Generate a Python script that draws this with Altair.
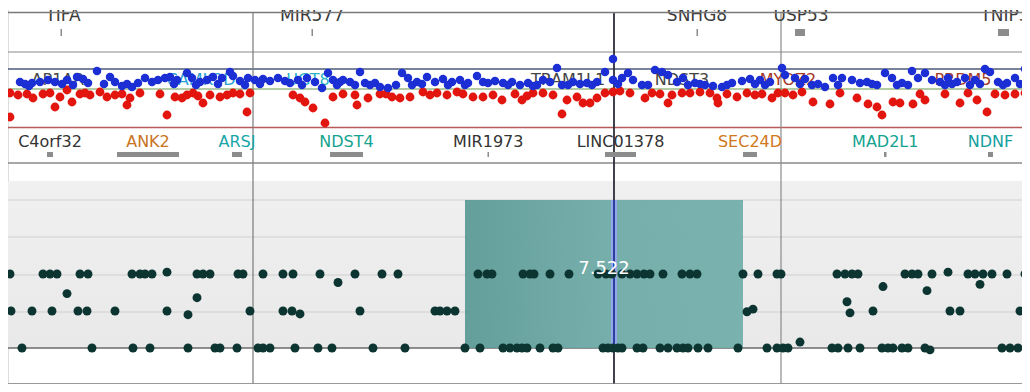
import altair as alt
import pandas as pd

W, H = 1014, 376          # chart size; page margin of 8px on every side
OFF = 8                   # page offset of the chart origin

# ---------------- data ----------------
# scatter track: (genomic position, log-ratio)
blue_points = [
    (20,0.7),(25,0.5),(32,0.6),(40,0.7),(48,0.9),(55,0.7),(67,0.9),(77,1.2),(83,1.0),(88,0.6),
    (97,1.8),(110,1.2),(115,0.7),(122,0.3),(132,0.2),(138,0.6),(145,1.1),(152,0.7),(158,0.9),(165,1.1),
    (170,1.2),(177,0.9),(187,1.6),(192,1.1),(200,0.7),(207,0.9),(213,1.2),(222,1.1),(230,1.7),(233,1.3),
    (240,0.8),(248,1.1),(255,0.9),(263,1.0),(270,0.8),(278,1.1),(285,0.8),(290,0.6),(298,0.9),(307,1.1),
    (315,0.7),(322,0.1),(328,1.6),(333,0.9),(340,0.7),(343,0.9),(350,0.7),(360,1.7),(365,0.6),(375,0.6),
    (380,0.2),(388,0.1),(402,1.6),(408,1.1),(417,0.7),(427,1.2),(435,0.7),(443,1.0),(452,0.7),(460,0.9),
    (468,0.6),(477,1.3),(483,0.7),(488,0.6),(495,0.8),(503,0.6),(512,0.7),(520,0.4),(528,0.6),(537,0.4),
    (543,0.9),(550,0.7),(557,2.1),(562,0.4),(573,0.7),(587,0.6),(597,0.7),(605,1.7),(613,3.0),(613,0.9),
    (622,1.1),(628,1.6),(633,0.9),(642,0.4),(655,1.9),(662,1.7),(668,1.4),(677,0.7),(683,1.1),(695,0.6),
    (705,0.4),(722,0.2),(732,0.6),(742,0.8),(750,1.0),(760,0.9),(770,0.7),(782,2.1),(785,1.4),(795,1.1),
    (805,1.0),(825,0.2),(833,1.1),(842,1.1),(852,0.9),(860,0.6),(867,0.7),(877,0.4),(885,1.6),(892,1.1),
    (902,0.6),(912,1.8),(918,1.1),(925,1.6),(932,0.9),(940,0.7),(948,1.1),(957,0.7),(965,1.1),(975,0.9),
    (985,2.0),(990,1.7),(998,0.7),(1007,0.6),(1015,1.1),(1025,2.0),
    (29,0.3),(62,0.5),(73,0.4),(104,0.5),(127,0.5),(174,0.5),(196,0.4),(218,0.5),(245,0.4),(260,0.5),
    (302,0.4),(337,0.4),(355,0.4),(370,0.4),(396,0.4),(412,0.4),(422,0.5),(448,0.4),(465,0.4),(508,0.4),
    (533,0.3),(568,0.4),(580,0.5),(592,0.4),(618,0.5),(648,0.4),(688,0.4),(700,0.5),(713,0.3),(727,0.4),
    (755,0.5),(765,0.4),(800,0.5),(812,0.4),(818,0.5),(838,0.4),(872,0.5),(897,0.4),(908,0.4),(945,0.4),
    (952,0.5),(970,0.4),(980,0.5),(1003,0.4),(1020,0.5),
]
red_points = [
    (10,-0.4),(10,-2.8),(18,-0.6),(27,-0.5),(33,-0.9),(43,-0.5),(55,-1.8),(60,-0.8),(67,-0.1),(72,-1.3),
    (80,-0.5),(90,-0.6),(100,-0.3),(107,-0.8),(115,-0.6),(127,-1.6),(130,-0.9),(140,-0.4),(167,-2.6),(175,-0.8),
    (182,-0.9),(187,-0.6),(193,-0.4),(203,-1.4),(210,-0.6),(220,-0.8),(233,-0.4),(247,-2.3),(250,-0.4),(293,-0.6),
    (300,-0.9),(305,-1.3),(313,-1.9),(325,-3.4),(333,-0.8),(355,-0.6),(357,-1.6),(368,-0.9),(380,-0.5),(392,-0.8),
    (400,-0.9),(410,-0.8),(423,-0.3),(437,-0.4),(447,-0.6),(457,-0.3),(473,-0.8),(483,-0.8),(493,-0.6),(502,-1.1),
    (522,-1.1),(533,-0.4),(543,-0.4),(553,-0.6),(562,-2.5),(567,-1.1),(577,-0.8),(583,-1.4),(590,-1.4),(597,-0.9),
    (605,-0.4),(613,-0.3),(620,-0.2),(645,-0.9),(652,-0.4),(668,-1.4),(672,-0.6),(690,-0.4),(700,-0.3),(710,-0.4),
    (717,-0.9),(718,-1.4),(737,-0.8),(747,-0.4),(755,-0.6),(772,-0.9),(778,-0.4),(793,-0.6),(802,-0.3),(813,-1.3),
    (830,-1.5),(857,-0.9),(868,-1.5),(877,-1.8),(882,-2.6),(893,-1.3),(900,-1.4),(913,-1.5),(925,-1.1),(960,-1.4),
    (977,-1.1),(987,-2.3),(1005,-0.6),(1015,-0.5),(1025,-0.4),
    (50,-0.4),(85,-0.4),(122,-0.5),(160,-0.5),(198,-0.7),(227,-0.6),(240,-0.5),(343,-0.5),(386,-0.5),(430,-0.6),
    (463,-0.5),(515,-0.5),(527,-0.7),(630,-0.4),(660,-0.5),(682,-0.4),(727,-0.5),(762,-0.5),(785,-0.4),(840,-0.4),
    (920,-0.5),(945,-0.5),(968,-0.4),(995,-0.5),
]
scatter_labels = ["AP1AR", "CAMK2D", "UGT8", "TRAM1L1", "NDST3", "MYOZ2", "PRDM5"]
scatter_label_pos = [58, 201, 308, 568, 682, 788, 963]
scatter_label_col = ["#4a4a4a", "#2c9fd2", "#2ab3c6", "#444444", "#444444", "#a63a2a", "#a63a2a"]

# lower track: (genomic position, copy level)
dots = [
    # level 2
    (10,2),(43,2),(50,2),(57,2),(80,2),(88,2),(132,2),(140,2),(145,2),(152,2),(197,2),(203,2),(210,2),
    (238,2),(243,2),(263,2),(283,2),(293,2),(320,2),(355,2),(382,2),(398,2),(478,2),(487,2),(492,2),
    (523,2),(530,2),(534,2),(550,2),(569,2),(598,2),(606,2),(612,2),(622,2),(630,2),(637,2),(644,2),
    (650,2),(663,2),(682,2),(690,2),(697,2),(743,2),(758,2),(777,2),(781,2),(837,2),(845,2),(852,2),
    (858,2),(905,2),(912,2),(918,2),(932,2),(968,2),(975,2),(983,2),(992,2),(1007,2),(1025,2),
    # between levels
    (67,1.47),(167,2.05),(197,1.36),(338,1.77),(883,1.66),(927,1.55),(948,2.05),(980,1.72),
    (188,0.9),(300,0.92),(747,0.98),(753,1.05),(847,1.25),(850,0.95),(800,0.16),(930,-0.05),
    # level 1
    (11,1),(32,1),(52,1),(78,1),(87,1),(115,1),(167,1),(250,1),(283,1),(292,1),(360,1),(435,1),
    (440,1),(447,1),(455,1),(873,1),(950,1),(960,1),(1020,1),
    # level 0
    (22,0),(92,0),(133,0),(150,0),(188,0),(215,0),(220,0),(237,0),(258,0),(263,0),(270,0),(295,0),
    (318,0),(332,0),(373,0),(405,0),(465,0),(480,0),(503,0),(510,0),(517,0),(522,0),(527,0),(540,0),
    (553,0),(558,0),(603,0),(608,0),(613,0),(618,0),(622,0),(637,0),(643,0),(660,0),(668,0),(677,0),
    (683,0),(688,0),(698,0),(708,0),(738,0),(767,0),(777,0),(783,0),(788,0),(832,0),(838,0),(848,0),
    (860,0),(882,0),(888,0),(893,0),(902,0),(908,0),(925,0),(1002,0),(1010,0),(1018,0),(1027,0),
]
region_start = [465]
region_end = [743]
region_score = [7.522]

# gene annotation, lower row
gene_names = ["C4orf32", "ANK2", "ARSJ", "NDST4", "MIR1973", "LINC01378", "SEC24D", "MAD2L1", "NDNF"]
gene_start = [47, 117, 232, 330, 487.5, 605, 743, 884, 988]
gene_end = [53, 179, 242, 363, 489, 636, 757, 886.5, 993]
gene_col = ["#333333", "#c8741e", "#1aa5a8", "#14a38f", "#333333", "#333333", "#d0781a", "#14a38f", "#14a0a0"]

# gene annotation, upper row
top_names = ["TIFA", "MIR577", "SNHG8", "USP53", "TNIP3"]
top_start = [60.5, 311.5, 696.5, 795, 998]
top_end = [62, 313, 698, 805, 1009]
top_label = [63, 312, 697, 801, 1005]

markers = [253, 614, 781]

# ---------------- helpers ----------------
xs = alt.Scale(domain=[OFF, OFF + W], nice=False, zero=False)
one = pd.DataFrame({"a": [0]})


def py(v):
    return min(v - OFF, H - 0.5)


blue_df = pd.DataFrame(blue_points, columns=["pos", "val"])
red_df = pd.DataFrame(red_points, columns=["pos", "val"])
dots_df = pd.DataFrame(dots, columns=["pos", "level"])
reg_df = pd.DataFrame({"start": region_start, "end": region_end, "score": region_score})
genes_df = pd.DataFrame({"name": gene_names, "start": gene_start, "end": gene_end, "col": gene_col})
top_df = pd.DataFrame({"name": top_names, "start": top_start, "end": top_end, "lab": top_label})
slab_df = pd.DataFrame({"name": scatter_labels, "pos": scatter_label_pos, "col": scatter_label_col})
mark_df = pd.DataFrame({"pos": markers, "col": ["#7a7a7a", "#2d2d3a", "#8a8a8a"], "w": [1.2, 1.8, 1.2]})

val_scale = alt.Scale(domain=[-4, 3], range=[py(129), py(59)], nice=False, zero=False)
lev_scale = alt.Scale(domain=[0, 4], range=[py(348), py(200)], nice=False, zero=False)

hlines = pd.DataFrame({
    "y": [py(v) for v in [52, 69, 127.5, 163, 200, 237, 275, 312, 348, 387]],
    "c": ["#8a8a8a", "#4d5a7a", "#b85a5a", "#8a8a8a", "#d0d0d0", "#cfcfcf",
          "#cfcfcf", "#cfcfcf", "#6a6a6a", "#9a9a9a"],
    "w": [1, 1.5, 1.5, 1.5, 1, 1, 1, 1, 1.5, 1],
})

band_fill = alt.LinearGradient(
    gradient="linear", x1=0, x2=0, y1=0, y2=1,
    stops=[alt.GradientStop(color="#f0f0f0", offset=0),
           alt.GradientStop(color="#e9e9e9", offset=1)])
band = alt.Chart(one).mark_rect(color=band_fill).encode(
    x=alt.value(0), x2=alt.value(W), y=alt.value(py(181)), y2=alt.value(py(348)))

grid_lines = alt.Chart(hlines).mark_rule().encode(
    x=alt.value(0), x2=alt.value(W),
    y=alt.Y("y:Q", scale=None, axis=None),
    color=alt.Color("c:N", scale=None),
    strokeWidth=alt.StrokeWidth("w:Q", scale=None))

teal_fill = alt.LinearGradient(
    gradient="linear", x1=0, x2=1, y1=0, y2=0,
    stops=[alt.GradientStop(color="#5c9a96", offset=0),
           alt.GradientStop(color="#6eaaa6", offset=0.5),
           alt.GradientStop(color="#72aeaa", offset=1)])
region = alt.Chart(reg_df).mark_rect(color=teal_fill, opacity=0.94).encode(
    x=alt.X("start:Q", scale=xs, axis=None), x2="end:Q",
    y=alt.Y("lo:Q", scale=lev_scale, axis=None), y2="hi:Q",
).transform_calculate(lo="0", hi="4")

vlines = alt.Chart(mark_df).mark_rule().encode(
    x=alt.X("pos:Q", scale=xs, axis=None),
    y=alt.value(py(12.5)), y2=alt.value(py(387)),
    color=alt.Color("col:N", scale=None),
    strokeWidth=alt.StrokeWidth("w:Q", scale=None))

sel_df = pd.DataFrame({"pos": [markers[1]]})
sel_glow = alt.Chart(sel_df).mark_rule(color="#93a8e8", strokeWidth=6).encode(
    x=alt.X("pos:Q", scale=xs, axis=None), y=alt.value(py(200)), y2=alt.value(py(348)))
sel_core = alt.Chart(sel_df).mark_rule(color="#2a3f9c", strokeWidth=2).encode(
    x=alt.X("pos:Q", scale=xs, axis=None), y=alt.value(py(200)), y2=alt.value(py(348)))

zero_line = alt.Chart(one).mark_rule(color="#6b9a4a", strokeWidth=1.2).encode(
    x=alt.value(0), x2=alt.value(W),
    y=alt.Y("z:Q", scale=val_scale, axis=None)).transform_calculate(z="0")

slabels = alt.Chart(slab_df).mark_text(
    font="DejaVu Sans", fontSize=16, baseline="alphabetic", align="center").encode(
    x=alt.X("pos:Q", scale=xs, axis=None), y=alt.value(py(85)),
    text="name:N", color=alt.Color("col:N", scale=None))

red = alt.Chart(red_df).mark_circle(color="#e3150f", opacity=1, size=78).encode(
    x=alt.X("pos:Q", scale=xs, axis=None),
    y=alt.Y("val:Q", scale=val_scale, axis=None))
blue = alt.Chart(blue_df).mark_circle(color="#1c2fd4", opacity=1, size=72).encode(
    x=alt.X("pos:Q", scale=xs, axis=None),
    y=alt.Y("val:Q", scale=val_scale, axis=None))

gene_bars = alt.Chart(genes_df).mark_rect(color="#8c8c8c").encode(
    x=alt.X("start:Q", scale=xs, axis=None), x2="end:Q",
    y=alt.value(py(152)), y2=alt.value(py(157)))
gene_text = alt.Chart(genes_df).mark_text(
    font="DejaVu Sans", fontSize=16, baseline="alphabetic", align="center").encode(
    x=alt.X("mid:Q", scale=xs, axis=None), y=alt.value(py(147)),
    text="name:N", color=alt.Color("col:N", scale=None),
).transform_calculate(mid="(datum.start + datum.end) / 2")

top_bars = alt.Chart(top_df).mark_rect(color="#8c8c8c").encode(
    x=alt.X("start:Q", scale=xs, axis=None), x2="end:Q",
    y=alt.value(py(29)), y2=alt.value(py(36)))
top_text = alt.Chart(top_df).mark_text(
    font="DejaVu Sans", fontSize=17, baseline="alphabetic", align="center", color="#3a3a3a").encode(
    x=alt.X("lab:Q", scale=xs, axis=None), y=alt.value(py(21)), text="name:N")
top_mask = alt.Chart(one).mark_rect(color="white").encode(
    x=alt.value(0), x2=alt.value(W), y=alt.value(0), y2=alt.value(py(10)))
top_line = alt.Chart(one).mark_rule(color="#7a7a7a", strokeWidth=1.5).encode(
    x=alt.value(0), x2=alt.value(W), y=alt.value(py(12.5)))

dots_layer = alt.Chart(dots_df).mark_circle(color="#0c3532", opacity=1, size=80).encode(
    x=alt.X("pos:Q", scale=xs, axis=None),
    y=alt.Y("level:Q", scale=lev_scale, axis=None))

score_text = alt.Chart(reg_df).mark_text(
    font="DejaVu Sans", fontSize=18, baseline="alphabetic", align="center", color="white").encode(
    x=alt.X("mid:Q", scale=xs, axis=None), y=alt.value(py(274)),
    text=alt.Text("score:Q", format=".3f"),
).transform_calculate(mid="(datum.start + datum.end) / 2")

chart = alt.layer(
    band, grid_lines, region, vlines, sel_glow, sel_core, zero_line, slabels,
    red, blue, gene_bars, gene_text, top_bars, top_text, top_mask, top_line,
    dots_layer, score_text,
).resolve_scale(
    y="independent", color="independent", strokeWidth="independent"
).properties(
    width=W, height=H, padding=0,
    autosize=alt.AutoSizeParams(type="none"),
).configure_view(stroke=None).configure(background="white")

chart.save("out.html", embed_options={"renderer": "svg", "actions": False})
